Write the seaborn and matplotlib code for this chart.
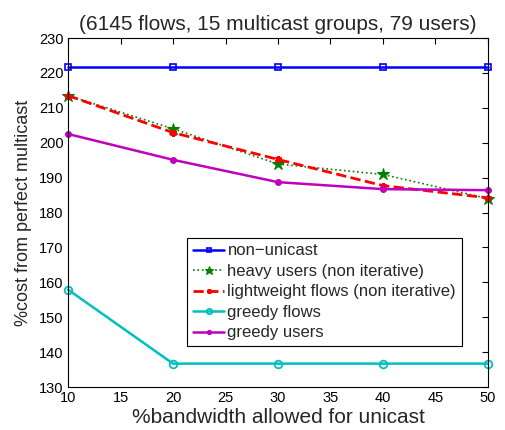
import numpy as np
import pandas as pd
import seaborn as sns
import matplotlib.pyplot as plt

# Data
bandwidth = [10, 20, 30, 40, 50]
non_unicast = [221.7, 221.7, 221.7, 221.7, 221.7]
heavy_users = [213.5, 204.0, 193.9, 190.9, 184.0]
lightweight_flows = [213.5, 202.9, 195.2, 187.7, 184.2]
greedy_flows = [157.9, 136.7, 136.7, 136.7, 136.7]
greedy_users = [202.5, 195.1, 188.7, 186.7, 186.4]

series_names = ['non\u2212unicast', 'heavy users (non iterative)',
                'lightweight flows (non iterative)', 'greedy flows', 'greedy users']
series_values = [non_unicast, heavy_users, lightweight_flows, greedy_flows, greedy_users]

styles = [
    dict(color='#0000ff', linestyle='-', marker='s', markersize=5, markerfacecolor='none', markeredgewidth=1.2, linewidth=1.8),
    dict(color='#008000', linestyle=':', marker='*', markersize=9, markerfacecolor='#008000', markeredgewidth=0.8, linewidth=1.2),
    dict(color='#ff0000', linestyle='--', marker=(6, 2, 0), markersize=5, markeredgewidth=1.5, linewidth=2.0),
    dict(color='#00bfbf', linestyle='-', marker='o', markersize=5.5, markerfacecolor='none', markeredgewidth=1.3, linewidth=1.8),
    dict(color='#bf00bf', linestyle='-', marker='o', markersize=4, markerfacecolor='#bf00bf', markeredgewidth=1.0, linewidth=1.8),
]

sns.set_theme(style='white')
plt.rcParams['font.family'] = ['Liberation Sans', 'DejaVu Sans']

fig = plt.figure(figsize=(5.05, 4.3), dpi=100)
ax = fig.add_axes([0.1347, 0.1, 0.8316, 0.8116])

for name, vals, st in zip(series_names, series_values, styles):
    df = pd.DataFrame({'bandwidth': bandwidth, 'cost': vals})
    sns.lineplot(data=df, x='bandwidth', y='cost', ax=ax, label=name, clip_on=False,
                 markeredgecolor=st['color'], **st)

ax.set_xlim(10, 50)
ax.set_ylim(130, 230)
ax.set_xticks(np.arange(10, 51, 5))
ax.set_yticks(np.arange(130, 231, 10))
ax.tick_params(direction='in', top=True, right=True, length=4, width=0.8,
               labelsize=10.5, colors='black', pad=3)
for sp in ax.spines.values():
    sp.set_color('black')
    sp.set_linewidth(0.8)

ax.set_xlabel('%bandwidth allowed for unicast', fontsize=15, labelpad=2)
ax.set_ylabel('%cost from perfect multicast', fontsize=13, labelpad=5)
ax.set_title('(6145 flows, 15 multicast groups, 79 users)', fontsize=15, pad=6)

leg = ax.legend(loc='lower right', bbox_to_anchor=(0.938, 0.117), fontsize=12,
                frameon=True, fancybox=False, edgecolor='black', framealpha=1,
                handlelength=1.85, handletextpad=0.2, borderpad=0.35, labelspacing=0.33,
                borderaxespad=0, markerscale=0.7)
leg.get_frame().set_linewidth(0.8)

fig.savefig('out.png', dpi=100)
